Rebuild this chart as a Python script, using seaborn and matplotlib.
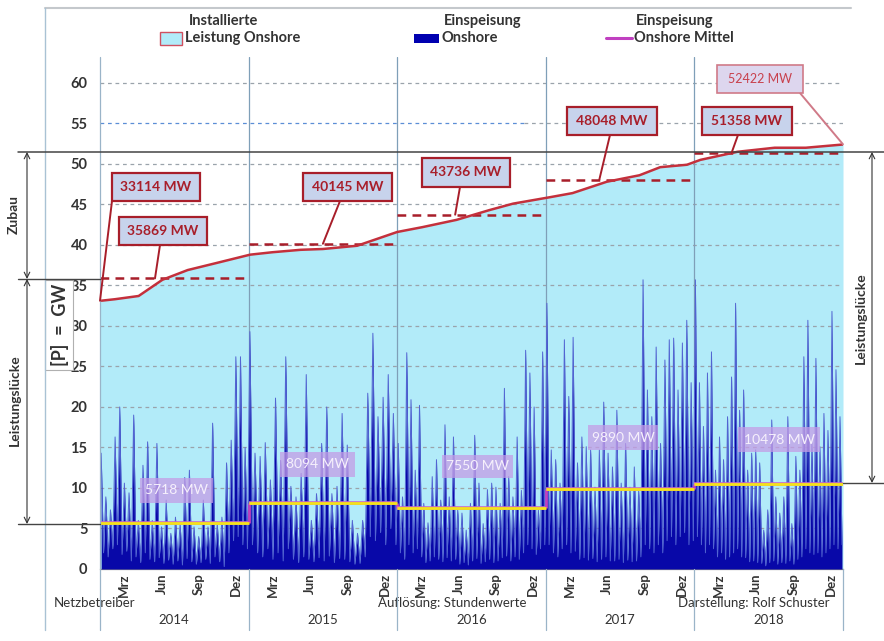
import numpy as np
import pandas as pd
import matplotlib
matplotlib.use("Agg")
import matplotlib.pyplot as plt
import seaborn as sns
from matplotlib.patches import Rectangle, FancyArrowPatch, ConnectionPatch
from matplotlib.lines import Line2D

# ---------------- data ----------------
years = [2014, 2015, 2016, 2017, 2018]
year_labels = ["2014", "2015", "2016", "2017", "2018"]
month_labels = ["Mrz", "Jun", "Sep", "Dez"]
month_frac = [59 / 365, 151 / 365, 243 / 365, 334 / 365]

# installed onshore capacity (GW)
cap_t = [2014.0, 2014.10, 2014.26, 2014.42, 2014.59, 2014.79, 2015.01, 2015.16, 2015.35,
         2015.50, 2015.73, 2016.0, 2016.17, 2016.40, 2016.62, 2016.78, 2017.03, 2017.18,
         2017.41, 2017.63, 2017.77, 2017.95, 2018.04, 2018.29, 2018.54, 2018.75, 2019.0]
cap_v = [33.1, 33.3, 33.7, 35.7, 36.9, 37.8, 38.8, 39.1, 39.4,
         39.5, 39.9, 41.6, 42.2, 43.1, 44.3, 45.1, 45.9, 46.4,
         47.8, 48.6, 49.6, 49.9, 50.5, 51.5, 52.0, 52.0, 52.4]
cap_mean = [35.869, 40.145, 43.736, 48.048, 51.358]
cap_mean_labels = ["35869 MW", "40145 MW", "43736 MW", "48048 MW", "51358 MW"]
cap_start_label = "33114 MW"
cap_start = 33.114
cap_end_label = "52422 MW"
cap_end = 52.422

# yearly mean feed-in (GW)
feed_mean = [5.718, 8.094, 7.550, 9.890, 10.478]
feed_mean_labels = ["5718 MW", "8094 MW", "7550 MW", "9890 MW", "10478 MW"]

# feed-in peaks / troughs (GW), read across each year
feed_2014 = [14.3, 2.0, 8.9, 1.5, 7.3, 2.5, 16.3, 3.0, 20.0, 1.8, 10.6, 2.2, 9.4, 1.0, 19.0, 1.5,
             6.0, 0.8, 12.8, 2.0, 15.7, 1.2, 6.0, 0.9, 15.5, 1.4, 5.2, 0.7, 8.5, 1.1, 4.4, 0.6,
             6.4, 1.0, 5.6, 0.5, 11.3, 1.3, 12.2, 0.9, 5.2, 0.6, 4.0, 0.8, 8.5, 1.2, 5.2, 0.7,
             18.0, 1.5, 5.6, 0.9, 6.4, 0.3, 13.1, 2.0, 15.9, 3.5, 26.2, 4.0, 26.2, 3.0, 15.0, 2.5]
feed_2015 = [29.3, 3.0, 14.3, 2.0, 13.9, 1.5, 15.6, 2.5, 11.0, 1.2, 21.1, 2.0, 13.4, 1.0, 26.2, 2.5,
             10.2, 1.2, 8.9, 0.8, 11.8, 1.5, 24.0, 1.2, 6.0, 0.9, 9.3, 1.4, 15.5, 1.0, 20.0, 1.6,
             9.3, 0.8, 10.2, 1.3, 19.2, 1.2, 15.3, 0.9, 6.0, 0.6, 4.4, 0.7, 6.0, 1.5, 21.7, 4.0,
             29.1, 3.5, 18.8, 4.5, 21.2, 3.0, 24.0, 5.0, 19.2, 3.0]
feed_2016 = [15.5, 2.0, 8.9, 1.2, 26.7, 3.0, 20.9, 2.0, 12.2, 2.5, 20.2, 1.5, 8.1, 0.8, 5.7, 1.0,
             11.4, 1.5, 13.5, 1.2, 8.5, 0.9, 17.8, 1.4, 8.9, 1.0, 16.3, 1.2, 7.3, 0.6, 6.9, 0.8,
             4.8, 0.5, 8.1, 1.0, 16.5, 1.3, 10.6, 0.7, 5.6, 0.9, 9.8, 1.2, 10.6, 0.8, 10.1, 1.0,
             8.1, 1.4, 22.3, 1.6, 11.4, 1.0, 8.9, 1.5, 16.3, 1.2, 9.7, 2.0, 27.0, 3.0, 24.2, 2.5,
             20.0, 1.8, 7.3, 2.5, 26.8, 3.0]
feed_2017 = [32.8, 3.0, 14.7, 2.0, 13.5, 1.5, 10.6, 2.5, 28.3, 3.0, 21.3, 2.0, 28.6, 2.2, 13.1, 1.2,
             16.3, 1.4, 15.1, 1.1, 14.7, 1.3, 10.1, 0.9, 14.7, 1.2, 20.6, 1.5, 14.3, 1.0, 12.6, 1.0,
             19.6, 1.2, 10.6, 0.8, 15.5, 1.1, 10.1, 0.9, 12.6, 1.0, 9.7, 1.5, 35.7, 3.0, 22.1, 2.5,
             18.8, 2.0, 27.4, 3.0, 15.5, 2.0, 25.8, 3.5, 28.3, 4.0, 28.5, 3.0, 22.1, 4.0, 27.9, 4.5,
             30.7, 3.0, 23.0, 3.5]
feed_2018 = [35.7, 4.0, 23.0, 3.0, 17.6, 2.0, 24.2, 3.0, 26.8, 2.5, 12.2, 1.5, 16.3, 2.0, 13.5, 1.2,
             18.8, 1.5, 23.7, 2.0, 32.8, 2.5, 19.6, 1.5, 22.1, 1.4, 12.2, 0.9, 14.3, 1.0, 14.7, 0.8,
             13.1, 0.7, 4.8, 0.4, 7.3, 0.8, 18.4, 1.0, 8.9, 0.6, 6.9, 0.8, 8.9, 0.7, 18.8, 1.0,
             5.6, 0.6, 13.9, 1.2, 12.2, 1.5, 26.2, 2.5, 30.7, 2.0, 15.5, 1.8, 26.0, 2.0, 15.1, 1.5,
             19.2, 2.0, 17.1, 2.5, 31.8, 3.0, 24.6, 2.5, 18.8, 3.0]
feed_years = [feed_2014, feed_2015, feed_2016, feed_2017, feed_2018]

# ---------------- styling ----------------
sns.set_theme(style="white")
plt.rcParams["font.family"] = ["Lato", "DejaVu Sans"]

W, H = 884, 641
fig = plt.figure(figsize=(W / 100, H / 100), dpi=100)
fig.patch.set_facecolor("white")


def fx(x):
    return x / W


def fy(y):
    return 1 - y / H


ax = fig.add_axes([fx(100), fy(569), (843 - 100) / W, (569 - 57) / H])
ax.set_xlim(2014, 2019)
ax.set_ylim(0, 63.2)
ax.set_facecolor("none")

CYAN = "#b2ebf9"
NAVY = "#0808a8"
SPIKE = "#5264d2"
RED = "#c4303c"
DRED = "#a81e2a"
TXT = "#333333"

# build frames
feed_rows = []
for y, vals in zip(years, feed_years):
    n = len(vals)
    for i, v in enumerate(vals):
        feed_rows.append((y + (i + 0.5) / n, v))
feed_df = pd.DataFrame(feed_rows, columns=["t", "gw"])
cap_df = pd.DataFrame({"t": cap_t, "gw": cap_v})

# installed capacity area
ax.fill_between(cap_df["t"], 0, cap_df["gw"], color=CYAN, lw=0, zorder=1)

# grid
for v in range(5, 61, 5):
    if v == 55:
        ax.hlines(v, 2014, 2016.85, color="#5b8ed6", ls=(0, (3, 3)), lw=0.9, zorder=2)
        ax.hlines(v, 2016.85, 2019, color="#9aa3ab", ls=(0, (3, 3)), lw=0.9, zorder=2)
    else:
        ax.axhline(v, color="#9aa3ab", ls=(0, (3, 3)), lw=0.9, zorder=2)
for y in years[1:]:
    ax.axvline(y, color="#7f9fb8", lw=0.9, zorder=2)

# feed-in
ax.fill_between(feed_df["t"], 0, feed_df["gw"], color=NAVY, lw=0, zorder=3)
sns.lineplot(data=feed_df, x="t", y="gw", ax=ax, color=SPIKE, lw=0.7, zorder=4, estimator=None)

# yearly mean feed-in
for i, (y, m) in enumerate(zip(years, feed_mean)):
    if i > 0:
        ax.vlines(y, feed_mean[i - 1], m, color="#c040c0", lw=2, zorder=5)
    ax.hlines(m, y, y + 1, color="#c86ac8", lw=2.6, zorder=5)
    ax.hlines(m, y, y + 1, color="#f4e31a", lw=2.0, zorder=6)

# yearly mean capacity (dashed)
for y, m in zip(years, cap_mean):
    ax.hlines(m, y, y + 1, color=DRED, ls=(0, (3.5, 2.5)), lw=1.8, zorder=6)

# capacity curve
sns.lineplot(data=cap_df, x="t", y="gw", ax=ax, color=RED, lw=1.8, zorder=7, estimator=None)

# axes cosmetics
ax.set_xlabel("")
ax.set_ylabel("")
for s in ["top", "right", "left"]:
    ax.spines[s].set_visible(False)
ax.spines["bottom"].set_color("#8a8a8a")
ax.spines["bottom"].set_linewidth(0.9)
ax.set_yticks(range(0, 61, 5))
ax.set_yticklabels([str(v) for v in range(0, 61, 5)], fontsize=10.5, fontweight="bold", color=TXT)
ax.tick_params(axis="y", length=0, pad=9)
xt = [y + f for y in years for f in month_frac]
ax.set_xticks(xt)
ax.set_xticklabels(month_labels * len(years), rotation=90, fontsize=9.5, fontweight="bold", color=TXT)
ax.tick_params(axis="x", length=0, pad=3)
ax.grid(False)

# ---------------- frame lines (figure pixels) ----------------
def fline(x0, y0, x1, y1, color="#333333", lw=1.0, z=10):
    fig.add_artist(Line2D([fx(x0), fx(x1)], [fy(y0), fy(y1)], color=color, lw=lw, zorder=z))


fline(45, 8, 851, 8, color="#c4c8cc", lw=1.5)
fline(45, 8, 45, 630, color="#a9c2d4", lw=1.0)
fline(100, 57, 100, 630, color="#9ab4c8", lw=0.9)
for xp in [248.6, 397.2, 545.8, 694.4, 843]:
    fline(xp, 569, xp, 630, color="#9ab4c8", lw=0.9)

# reference lines and arrows
fline(18, 152, 884, 152, color="#444444", lw=1.1)
fline(18, 279, 100, 279, color="#444444", lw=1.0)
fline(18, 524, 100, 524, color="#444444", lw=1.0)
fline(843, 483, 884, 483, color="#444444", lw=1.0)


def farrow(x, y0, y1):
    fig.add_artist(FancyArrowPatch((fx(x), fy(y0)), (fx(x), fy(y1)), transform=fig.transFigure,
                                   arrowstyle="<->,head_length=4,head_width=2", color="#333333",
                                   lw=0.8, shrinkA=0, shrinkB=0, zorder=10))


farrow(27, 152, 279)
farrow(27, 279, 524)
farrow(872, 152, 483)
fig.text(fx(14), fy(215), "Zubau", rotation=90, ha="center", va="center", fontsize=10,
         fontweight="bold", color=TXT)
fig.text(fx(15), fy(400), "Leistungslücke", rotation=90, ha="center", va="center", fontsize=10,
         fontweight="bold", color=TXT)
fig.text(fx(861), fy(318), "Leistungslücke", rotation=90, ha="center", va="center", fontsize=10,
         fontweight="bold", color=TXT)

# [P] = GW box
fig.add_artist(Rectangle((fx(45), fy(370)), (73 - 45) / W, (370 - 280) / H, transform=fig.transFigure,
                         facecolor="white", edgecolor="#b0b0b0", lw=0.8, zorder=9))
fig.text(fx(60), fy(325), "[P]  =  GW", rotation=90, ha="center", va="center", fontsize=13,
         fontweight="bold", color=TXT, zorder=10)


# ---------------- callouts ----------------
def callout(x0, y0, x1, y1, text, anchor, target, face="#c7d3ec", edge=DRED, tcolor=DRED,
            weight="bold", size=10, elw=1.6):
    fig.add_artist(Rectangle((fx(x0), fy(y1)), (x1 - x0) / W, (y1 - y0) / H, transform=fig.transFigure,
                             facecolor=face, edgecolor=edge, lw=elw, zorder=12))
    fig.text(fx((x0 + x1) / 2), fy((y0 + y1) / 2), text, ha="center", va="center", fontsize=size,
             fontweight=weight, color=tcolor, zorder=13)
    con = ConnectionPatch(xyA=(fx(anchor[0]), fy(anchor[1])), coordsA=fig.transFigure,
                          xyB=target, coordsB=ax.transData, color=edge, lw=1.4, zorder=11)
    fig.add_artist(con)


callout(112, 173, 200, 201, cap_start_label, (112, 201), (2014.0, cap_start))
callout(119, 217, 207, 245, cap_mean_labels[0], (160, 245), (2014.37, cap_mean[0]))
callout(303, 173, 392, 201, cap_mean_labels[1], (340, 201), (2015.50, cap_mean[1]))
callout(422, 158, 510, 187, cap_mean_labels[2], (460, 187), (2016.39, cap_mean[2]))
callout(567, 107, 657, 135, cap_mean_labels[3], (610, 135), (2017.36, cap_mean[3]))
callout(702, 107, 792, 135, cap_mean_labels[4], (738, 135), (2018.25, cap_mean[4]))
callout(717, 65, 803, 93, cap_end_label, (800, 93), (2019.0, cap_end), face="#ddd6ee",
        edge="#d07a88", tcolor="#c8404c", weight="normal", size=9, elw=1.2)

# mean feed-in labels
mean_boxes = [(140, 478, 213, 503), (280, 452, 355, 477), (442, 455, 513, 478),
              (588, 425, 658, 450), (738, 427, 820, 452)]
for (x0, y0, x1, y1), lab in zip(mean_boxes, feed_mean_labels):
    fig.add_artist(Rectangle((fx(x0), fy(y1)), (x1 - x0) / W, (y1 - y0) / H, transform=fig.transFigure,
                             facecolor="#c49ce6", edgecolor="none", alpha=0.75, zorder=12))
    fig.text(fx((x0 + x1) / 2), fy((y0 + y1) / 2), lab, ha="center", va="center", fontsize=10,
             color="#f6f0fc", zorder=13)

# ---------------- legend ----------------
fig.add_artist(Rectangle((fx(160), fy(45)), 22 / W, 13 / H, transform=fig.transFigure,
                         facecolor=CYAN, edgecolor="#d05060", lw=1.0, zorder=12))
fig.text(fx(224), fy(21), "Installierte", ha="center", va="center", fontsize=10.5,
         fontweight="bold", color=TXT)
fig.text(fx(185), fy(38), "Leistung Onshore", ha="left", va="center", fontsize=10.5,
         fontweight="bold", color=TXT)
fig.add_artist(Rectangle((fx(414), fy(43)), 25 / W, 9 / H, transform=fig.transFigure,
                         facecolor="#0000b0", edgecolor="none", zorder=12))
fig.text(fx(483), fy(21), "Einspeisung", ha="center", va="center", fontsize=10.5,
         fontweight="bold", color=TXT)
fig.text(fx(441), fy(38), "Onshore", ha="left", va="center", fontsize=10.5,
         fontweight="bold", color=TXT)
fline(606, 38, 632, 38, color="#c040c0", lw=2.2, z=12)
fig.text(fx(675), fy(21), "Einspeisung", ha="center", va="center", fontsize=10.5,
         fontweight="bold", color=TXT)
fig.text(fx(634), fy(38), "Onshore Mittel", ha="left", va="center", fontsize=10.5,
         fontweight="bold", color=TXT)

# ---------------- bottom texts ----------------
for y, lab in zip(years, year_labels):
    xc = 100 + (y - 2014 + 0.5) * 148.6
    fig.text(fx(xc), fy(620), lab, ha="center", va="center", fontsize=9.5, color=TXT)
fig.text(fx(54), fy(603), "Netzbetreiber", ha="left", va="center", fontsize=9.5, color=TXT)
fig.text(fx(378), fy(603), "Auflösung: Stundenwerte", ha="left", va="center", fontsize=9.5, color=TXT)
fig.text(fx(678), fy(603), "Darstellung: Rolf Schuster", ha="left", va="center", fontsize=9.5, color=TXT)

fig.savefig("out.png", dpi=100)
